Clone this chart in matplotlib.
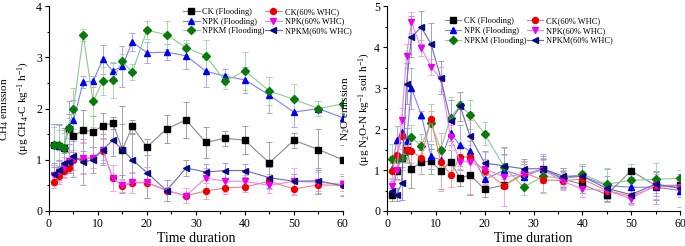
import matplotlib
matplotlib.use("Agg")
import matplotlib.pyplot as plt
from matplotlib.ticker import MultipleLocator

plt.rcParams['font.family'] = ['Liberation Serif', 'DejaVu Serif']
plt.rcParams['mathtext.fontset'] = 'custom'
plt.rcParams['mathtext.rm'] = 'Liberation Serif'
plt.rcParams['mathtext.it'] = 'Liberation Serif:italic'

days = [1, 2, 3, 4, 5, 7, 9, 11, 13, 15, 17, 20, 24, 28, 32, 36, 40, 45, 50, 55, 60]

# CH4 emission
ch4_ck_fl = [1.28, 1.27, 1.22, 1.6, 1.46, 1.58, 1.55, 1.66, 1.72, 1.2, 1.65, 1.25, 1.6, 1.78, 1.34, 1.42, 1.38, 0.94, 1.38, 1.2, 1.0]
ch4_ck_fl_err = [0.42, 0.42, 0.4, 0.3, 0.3, 0.4, 0.3, 0.25, 0.12, 0.85, 0.12, 0.15, 0.27, 0.35, 0.3, 0.15, 0.27, 0.4, 0.15, 0.4, 0.28]
ch4_ck_60 = [0.56, 0.68, 0.78, 0.84, 1.0, 1.02, 1.04, 1.18, 0.65, 0.49, 0.55, 0.55, 0.4, 0.3, 0.39, 0.45, 0.47, 0.58, 0.43, 0.51, 0.5]
ch4_ck_60_err = [0.12, 0.15, 0.12, 0.1, 0.2, 0.3, 0.2, 0.25, 0.25, 0.12, 0.2, 0.3, 0.2, 0.15, 0.15, 0.12, 0.1, 0.15, 0.12, 0.12, 0.1]
ch4_npk_fl = [1.3, 1.27, 1.24, 1.65, 1.77, 2.52, 2.53, 2.96, 2.73, 2.83, 3.3, 3.09, 3.1, 3.03, 2.73, 2.63, 2.56, 2.26, 1.93, 2.0, 1.82]
ch4_npk_fl_err = [0.4, 0.4, 0.35, 0.5, 0.4, 0.12, 0.1, 0.28, 0.15, 0.4, 0.17, 0.2, 0.15, 0.25, 0.3, 0.15, 0.25, 0.35, 0.3, 0.15, 0.2]
ch4_npk_60 = [0.7, 0.77, 0.85, 0.97, 1.0, 1.04, 1.04, 1.2, 0.65, 0.5, 0.56, 0.56, 0.4, 0.3, 0.64, 0.58, 0.58, 0.5, 0.58, 0.56, 0.52]
ch4_npk_60_err = [0.2, 0.2, 0.2, 0.2, 0.2, 0.3, 0.2, 0.2, 0.25, 0.12, 0.2, 0.3, 0.2, 0.15, 0.2, 0.2, 0.12, 0.15, 0.25, 0.2, 0.2]
ch4_npkm_fl = [1.28, 1.28, 1.23, 1.62, 2.0, 3.43, 2.14, 2.54, 2.55, 2.92, 2.71, 3.53, 3.44, 3.19, 3.03, 2.53, 2.74, 2.34, 2.18, 2.0, 2.09]
ch4_npkm_fl_err = [0.35, 0.3, 0.3, 0.2, 0.4, 0.12, 0.5, 0.27, 0.35, 0.15, 0.15, 0.18, 0.27, 0.15, 0.3, 0.15, 0.37, 0.27, 0.3, 0.15, 0.17]
ch4_npkm_60 = [0.73, 0.8, 0.93, 0.95, 1.07, 0.95, 1.0, 1.2, 1.38, 1.2, 1.0, 0.75, 0.4, 0.84, 0.76, 0.79, 0.79, 0.65, 0.58, 0.59, 0.49]
ch4_npkm_60_err = [0.2, 0.2, 0.2, 0.2, 0.4, 0.45, 0.25, 0.3, 0.3, 0.5, 0.5, 0.5, 0.2, 0.15, 0.15, 0.15, 0.12, 0.2, 0.15, 0.25, 0.2]

# N2O emission
n2o_ck_fl = [0.4, 0.98, 1.3, 1.5, 1.02, 1.2, 1.21, 0.98, 1.2, 0.8, 0.88, 0.53, 0.63, 0.9, 1.02, 0.78, 0.65, 0.4, 0.98, 0.62, 0.63]
n2o_ck_fl_err = [0.15, 0.2, 0.3, 0.3, 0.45, 0.3, 0.3, 0.45, 0.3, 0.2, 0.5, 0.2, 0.5, 0.25, 0.25, 0.2, 0.2, 0.1, 0.17, 0.35, 0.2]
n2o_ck_60 = [0.98, 1.37, 1.82, 1.5, 1.46, 1.3, 2.24, 1.2, 0.89, 1.32, 1.32, 0.97, 0.62, 0.93, 0.76, 0.74, 0.78, 0.5, 0.36, 0.6, 0.58]
n2o_ck_60_err = [0.2, 0.3, 0.3, 0.3, 0.3, 0.4, 0.2, 0.7, 0.3, 0.3, 0.9, 0.3, 0.5, 0.3, 0.3, 0.2, 0.2, 0.2, 0.2, 0.3, 0.2]
n2o_npk_fl = [1.03, 1.73, 1.93, 1.72, 3.0, 2.35, 1.33, 1.25, 1.9, 1.6, 1.46, 0.77, 1.0, 0.84, 1.03, 0.8, 0.85, 0.62, 0.58, 0.58, 0.5]
n2o_npk_fl_err = [0.3, 0.35, 0.25, 0.3, 0.5, 0.1, 0.3, 0.2, 0.3, 0.5, 0.25, 0.2, 0.4, 0.2, 0.35, 0.25, 0.3, 0.4, 0.25, 0.4, 0.4]
n2o_npk_60 = [0.6, 1.0, 2.22, 3.78, 4.6, 3.98, 3.52, 3.22, 1.8, 1.2, 1.2, 1.03, 0.83, 0.9, 1.0, 0.72, 0.54, 0.5, 0.3, 0.64, 0.58]
n2o_npk_60_err = [0.2, 0.25, 0.3, 0.3, 0.25, 0.2, 0.2, 0.3, 0.3, 0.4, 0.4, 0.4, 0.7, 0.3, 0.3, 0.2, 0.2, 0.2, 0.15, 0.2, 0.2]
n2o_npkm_fl = [1.28, 1.28, 1.3, 1.46, 1.8, 1.59, 2.15, 1.5, 2.28, 2.58, 2.35, 1.88, 1.07, 0.58, 0.85, 0.8, 0.9, 0.65, 0.75, 0.77, 0.8]
n2o_npkm_fl_err = [0.35, 0.35, 0.3, 0.3, 0.3, 0.3, 0.45, 0.4, 0.5, 0.1, 0.35, 0.28, 0.3, 0.2, 0.4, 0.2, 0.25, 0.4, 0.4, 0.4, 0.2]
n2o_npkm_60 = [0.5, 0.4, 0.68, 3.1, 4.25, 4.48, 4.08, 3.25, 2.2, 2.55, 1.82, 1.17, 1.1, 1.03, 1.03, 0.85, 0.85, 0.55, 0.4, 0.66, 0.55]
n2o_npkm_60_err = [0.15, 0.15, 0.4, 0.5, 0.5, 0.4, 0.5, 0.4, 0.5, 0.35, 0.6, 0.3, 0.45, 0.25, 0.3, 0.2, 0.25, 0.3, 0.2, 0.3, 0.2]

labels = ['CK (Flooding)', 'NPK (Flooding)', 'NPKM (Flooding)',
          'CK(60% WHC)', 'NPK(60% WHC)', 'NPKM(60% WHC)']
markers = ['s', '^', 'D', 'o', 'v', '<']
marker_colors = ['#000000', '#0000ee', '#087a08', '#ee0000', '#ee00ee', '#0a0a80']
line_colors = ['#8a8a8a', '#8080f0', '#90c890', '#f08080', '#f080f0', '#6a6ab0']
err_colors = ['#a0a0a0', '#a8a8f0', '#a8d8a8', '#f0a8a8', '#f0a8f0', '#a0a0d0']

ch4 = [(ch4_ck_fl, ch4_ck_fl_err), (ch4_npk_fl, ch4_npk_fl_err), (ch4_npkm_fl, ch4_npkm_fl_err),
       (ch4_ck_60, ch4_ck_60_err), (ch4_npk_60, ch4_npk_60_err), (ch4_npkm_60, ch4_npkm_60_err)]
n2o = [(n2o_ck_fl, n2o_ck_fl_err), (n2o_npk_fl, n2o_npk_fl_err), (n2o_npkm_fl, n2o_npkm_fl_err),
       (n2o_ck_60, n2o_ck_60_err), (n2o_npk_60, n2o_npk_60_err), (n2o_npkm_60, n2o_npkm_60_err)]

fig = plt.figure(figsize=(6.85, 2.46), dpi=100)
ax1 = fig.add_axes([0.0715, 0.1423, 0.429, 0.833])
ax2 = fig.add_axes([0.565, 0.1423, 0.4277, 0.833])


def draw(ax, series, ymax, ylabel, legend_xy, label_x):
    handles = []
    for i, (vals, errs) in enumerate(series):
        ax.errorbar(days, vals, yerr=errs, fmt='none', ecolor=err_colors[i],
                    elinewidth=0.7, capsize=2, capthick=0.7, zorder=2)
        h, = ax.plot(days, vals, color=line_colors[i], lw=0.8, marker=markers[i],
                     ms=4.3 if markers[i] != 'D' else 3.6, mfc=marker_colors[i],
                     mec=marker_colors[i], label=labels[i], zorder=3)
        handles.append(h)
    ax.set_xlim(0, 60)
    ax.set_ylim(0, ymax)
    ax.xaxis.set_major_locator(MultipleLocator(10))
    ax.xaxis.set_minor_locator(MultipleLocator(5))
    ax.yaxis.set_major_locator(MultipleLocator(1))
    ax.yaxis.set_minor_locator(MultipleLocator(0.5))
    ax.spines['top'].set_visible(False)
    ax.spines['right'].set_visible(False)
    ax.tick_params(which='major', direction='out', length=3, width=0.8, labelsize=8.5, pad=2)
    ax.tick_params(which='minor', direction='out', length=1.8, width=0.8)
    ax.set_xlabel('Time duration', fontsize=10, labelpad=1.5)
    ax.set_ylabel(ylabel, fontsize=8, linespacing=1.45)
    ax.yaxis.set_label_coords(label_x, 0.5)
    ax.legend(handles=handles, ncol=2, loc='upper left', bbox_to_anchor=legend_xy,
              bbox_transform=fig.transFigure, frameon=False, fontsize=6,
              handlelength=2.0, handletextpad=0.35, columnspacing=0.0,
              labelspacing=0.2, borderpad=0, borderaxespad=0)


draw(ax1, ch4, 4, 'CH$_4$ emission\n(\u00b5g CH$_4$-C kg$^{-1}$ h$^{-1}$)', (0.267, 0.968), -0.058)
draw(ax2, n2o, 5, 'N$_2$O emission\n(\u00b5g N$_2$O-N kg$^{-1}$ soil h$^{-1}$)', (0.649, 0.93), -0.048)

fig.savefig('out.png', dpi=100)
